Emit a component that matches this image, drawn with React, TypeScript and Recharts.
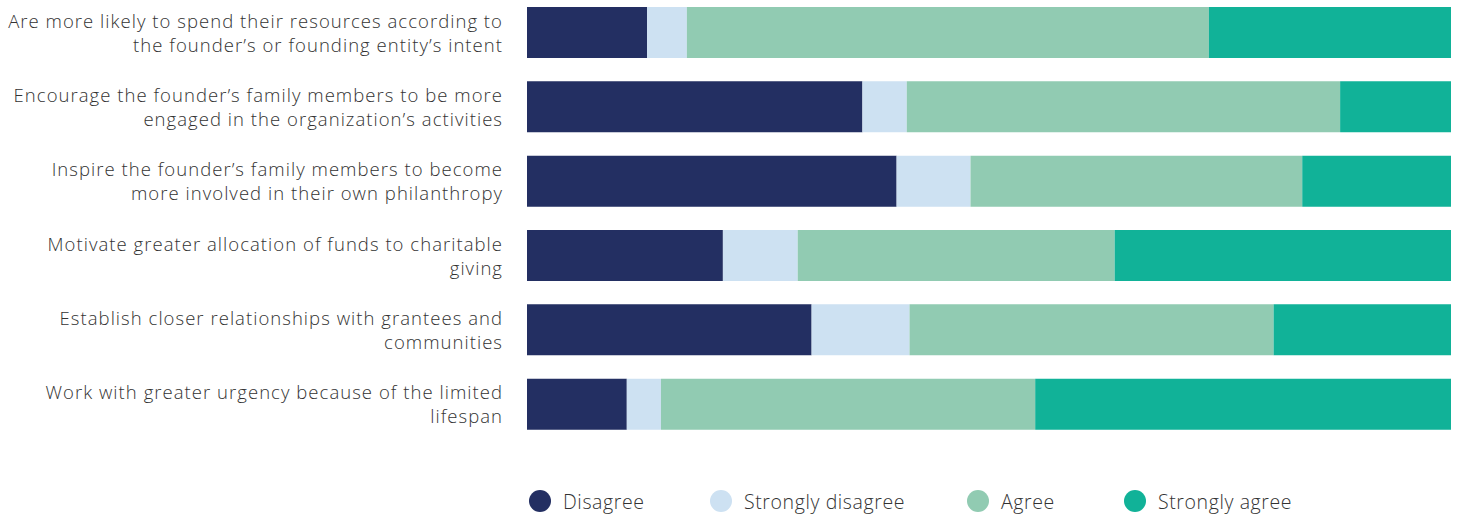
import React from "react";
import { BarChart, Bar, XAxis, YAxis, Legend } from "recharts";

const categories = [
  "Are more likely to spend their resources according to\nthe founder’s or founding entity’s intent",
  "Encourage the founder’s family members to be more\nengaged in the organization’s activities",
  "Inspire the founder’s family members to become\nmore involved in their own philanthropy",
  "Motivate greater allocation of funds to charitable\ngiving",
  "Establish closer relationships with grantees and\ncommunities",
  "Work with greater urgency because of the limited\nlifespan",
];

const disagree = [13.0, 36.3, 40.0, 21.2, 30.8, 10.8];
const stronglyDisagree = [4.3, 4.8, 8.0, 8.1, 10.6, 3.7];
const agree = [56.5, 46.9, 35.9, 34.3, 39.4, 40.5];
const stronglyAgree = [26.2, 12.1, 16.1, 36.4, 19.3, 45.0];

const seriesNames = ["Disagree", "Strongly disagree", "Agree", "Strongly agree"];
const seriesKeys = ["disagree", "stronglyDisagree", "agree", "stronglyAgree"];
const seriesColors = ["#232F62", "#CDE1F2", "#91CBB2", "#11B298"];
const legendItemWidths = [181, 257, 157, 200];

const data = categories.map((c, i) => ({
  category: c,
  disagree: disagree[i],
  stronglyDisagree: stronglyDisagree[i],
  agree: agree[i],
  stronglyAgree: stronglyAgree[i],
}));

const FONT = "'Open Sans', sans-serif";

const CategoryTick = (props: any) => {
  const { x, y, payload } = props;
  const lines: string[] = String(payload.value).split("\n");
  const lh = 24;
  const startY = y - ((lines.length - 1) * lh) / 2 - 0.5;
  return (
    <text
      x={x}
      y={startY}
      textAnchor="end"
      fill="#333"
      fontSize={18.5}
      fontFamily={FONT}
      fontWeight={300}
      letterSpacing={1.04}
      dominantBaseline="central"
    >
      {lines.map((l, i) => (
        <tspan key={i} x={x} y={startY + i * lh} dominantBaseline="central">
          {l}
        </tspan>
      ))}
    </text>
  );
};

const LegendContent = () => (
  <div
    style={{
      height: 74,
      display: "flex",
      alignItems: "flex-end",
      paddingLeft: 2,
      boxSizing: "border-box",
      paddingBottom: 1,
    }}
  >
    <div style={{ display: "flex", alignItems: "center", height: 26 }}>
      {seriesNames.map((n, i) => (
        <div
          key={n}
          style={{ display: "flex", alignItems: "center", width: legendItemWidths[i] }}
        >
          <span
            style={{
              width: 22,
              height: 22,
              borderRadius: 11,
              background: seriesColors[i],
              display: "inline-block",
              marginRight: 12,
              flexShrink: 0,
            }}
          />
          <span
            style={{
              fontFamily: FONT,
              fontSize: 19.5,
              fontWeight: 300,
              letterSpacing: 0.6,
              color: "#333",
              whiteSpace: "nowrap",
            }}
          >
            {n}
          </span>
        </div>
      ))}
    </div>
  </div>
);

export default function App() {
  return (
    <div style={{ position: "absolute", left: 0, top: -5, width: 1458, height: 520 }}>
      <BarChart
        width={1458}
        height={520}
        data={data}
        layout="vertical"
        margin={{ top: 0, right: 7, bottom: 0, left: 0 }}
        barCategoryGap={0}
      >
        <XAxis type="number" domain={[0, 100]} hide allowDataOverflow />
        <YAxis
          type="category"
          dataKey="category"
          width={527}
          axisLine={false}
          tickLine={false}
          tickSize={0}
          tickMargin={24}
          tick={<CategoryTick />}
          interval={0}
        />
        <Legend
          verticalAlign="bottom"
          align="left"
          content={<LegendContent />}
          wrapperStyle={{ left: 527, width: 900 }}
        />
        {seriesKeys.map((k, i) => (
          <Bar
            key={k}
            dataKey={k}
            name={seriesNames[i]}
            stackId="a"
            fill={seriesColors[i]}
            barSize={51}
            isAnimationActive={false}
          />
        ))}
      </BarChart>
    </div>
  );
}
